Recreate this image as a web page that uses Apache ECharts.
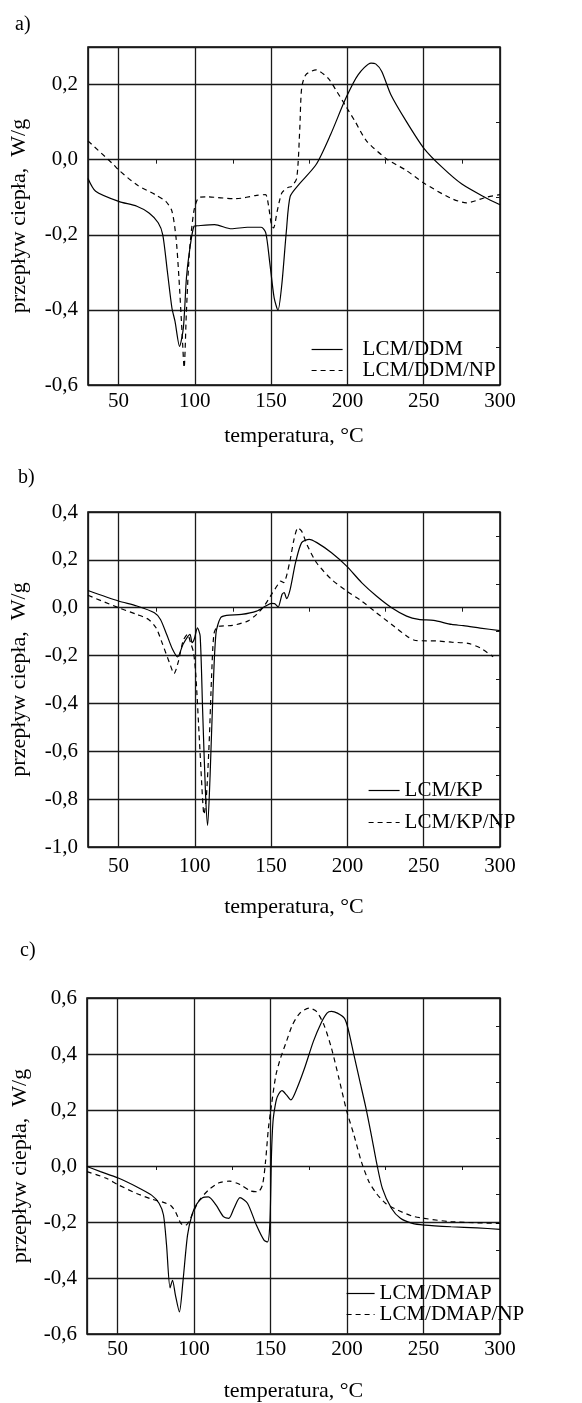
<!DOCTYPE html>
<html><head><meta charset="utf-8">
<script src="https://cdn.jsdelivr.net/npm/echarts@6/dist/echarts.min.js"></script>
<style>html,body{margin:0;padding:0;background:#fff}#c{width:582px;height:1403px}</style>
</head><body><div id="c"></div>
<script>
// ---- panel a) LCM/DDM ----
const A_DDM_T = [30,35,50,62,70,76,79,82,85,87,90,92.5,94.5,96.5,99.5,101.5,113,124,134.5,143.5,146.5,149,152,154.5,157,160,162.5,168,179.5,189,199,207,215.5,218.5,222.5,228.5,238,250,262,275,290,300];
const A_DDM_V = [-0.05,-0.084,-0.111,-0.124,-0.142,-0.168,-0.2,-0.297,-0.395,-0.43,-0.497,-0.448,-0.315,-0.244,-0.177,-0.176,-0.173,-0.184,-0.18,-0.18,-0.195,-0.27,-0.368,-0.401,-0.333,-0.19,-0.098,-0.067,-0.013,0.067,0.164,0.226,0.257,0.255,0.235,0.173,0.106,0.031,-0.02,-0.065,-0.1,-0.12];
const A_NP_T = [30,46.7,50,62,74,81,85,87.7,89.6,91.6,93,94.5,96.5,99.4,102.3,107,127,140.5,146.3,148.2,150.2,151.6,154,157,161,163.5,166.8,168.8,170,172.7,179.5,187.3,193,199,205,212.7,226.4,238,250,267.4,278,291,300];
const A_NP_V = [0.05,-0.013,-0.027,-0.067,-0.093,-0.111,-0.137,-0.208,-0.315,-0.457,-0.554,-0.404,-0.244,-0.137,-0.102,-0.099,-0.104,-0.095,-0.093,-0.12,-0.173,-0.182,-0.137,-0.089,-0.074,-0.071,-0.049,0.084,0.19,0.226,0.239,0.217,0.182,0.142,0.102,0.049,0.0,-0.027,-0.062,-0.102,-0.115,-0.1,-0.093];
// ---- panel b) LCM/KP ----
const B_KP_T = [30,50,62,73.5,77.5,81.5,85.4,88.7,92.3,96.8,98.2,99.6,101.7,103.5,105.1,107,108.4,110,111.9,113.9,116.9,120.8,130.6,140.5,146.4,150.3,152.3,154.6,157.2,158.6,160.1,162.5,166,170,175,180,189.6,199.5,209.3,219,229,238.8,246.7,256.5,268.3,276,287,300];
const B_KP_V = [0.072,0.028,0.007,-0.021,-0.049,-0.111,-0.174,-0.206,-0.153,-0.111,-0.146,-0.132,-0.084,-0.118,-0.425,-0.774,-0.91,-0.704,-0.355,-0.105,-0.042,-0.032,-0.028,-0.014,0.007,0.018,0.017,0.003,0.056,0.063,0.038,0.077,0.188,0.272,0.286,0.272,0.23,0.174,0.105,0.049,0.0,-0.035,-0.049,-0.053,-0.07,-0.075,-0.085,-0.096];
const B_NP_T = [30,50,62,69.7,74.6,78.5,83.4,86.4,89.3,92.3,95.2,97.2,99.2,100.7,103.1,105.1,106,107.6,109.4,111,112.5,114.9,124.7,134.6,140.5,145.4,150.3,154.6,156.2,158.2,162.1,165,167.6,170,173.9,179.8,189.6,199.5,209.3,219,229,238.8,244.7,258.5,268.3,279,287,295.5];
const B_NP_V = [0.052,0.0,-0.028,-0.049,-0.084,-0.146,-0.23,-0.275,-0.223,-0.139,-0.111,-0.146,-0.188,-0.286,-0.564,-0.801,-0.864,-0.787,-0.564,-0.286,-0.111,-0.079,-0.074,-0.056,-0.028,0.007,0.056,0.098,0.111,0.105,0.188,0.286,0.334,0.32,0.258,0.188,0.118,0.07,0.028,-0.021,-0.07,-0.118,-0.137,-0.139,-0.144,-0.149,-0.168,-0.205];
// ---- panel c) LCM/DMAP ----
const C_DMAP_T = [30,38.8,50,62.4,72.2,77.1,80,82,84.3,85.9,87.8,90.4,92.7,95.7,98.6,101.6,105.5,109.4,114.3,119.2,122.7,126.1,130,134.9,140.8,145.7,148,149.6,150.6,151.6,153.1,154.5,157.5,160.4,163.3,167.3,172.2,178,183,186.9,189.8,193.7,198.2,200.6,204.5,208.4,212.4,216.3,219.2,223.1,229,234.9,242.7,250.5,268,285,300];
const C_DMAP_V = [-0.002,-0.02,-0.042,-0.074,-0.104,-0.133,-0.175,-0.282,-0.435,-0.408,-0.461,-0.521,-0.414,-0.248,-0.175,-0.137,-0.113,-0.11,-0.139,-0.181,-0.187,-0.151,-0.113,-0.133,-0.212,-0.265,-0.271,-0.199,0.039,0.159,0.218,0.248,0.269,0.254,0.236,0.278,0.349,0.445,0.51,0.546,0.552,0.546,0.528,0.492,0.397,0.302,0.206,0.099,0.015,-0.08,-0.151,-0.187,-0.205,-0.211,-0.217,-0.221,-0.226];
const C_NP_T = [30,42.7,50,62.4,72.2,80,84.9,87.8,91.4,94.1,96.7,99.6,103.5,109.4,116.3,123.1,130,136.9,141.8,144.7,146.7,148.6,150.6,153.5,156.5,160.4,164.3,169.2,175.1,180,184.9,189.8,194.7,199.6,204.5,209.4,214.3,219.2,225.1,232.9,242.7,250.5,268,300];
const C_NP_V = [-0.02,-0.044,-0.066,-0.098,-0.118,-0.13,-0.142,-0.163,-0.205,-0.213,-0.199,-0.163,-0.122,-0.086,-0.06,-0.054,-0.066,-0.089,-0.092,-0.068,0.015,0.135,0.218,0.325,0.385,0.445,0.504,0.546,0.564,0.552,0.504,0.421,0.313,0.2,0.111,0.015,-0.056,-0.098,-0.133,-0.157,-0.179,-0.187,-0.199,-0.205];

const PANEL_LABELS = ['a)','b)','c)'];
const SERIES_NAMES = [['LCM/DDM','LCM/DDM/NP'],['LCM/KP','LCM/KP/NP'],['LCM/DMAP','LCM/DMAP/NP']];
const Y_RANGES = [[-0.6,0.3],[-1.0,0.4],[-0.6,0.6]];
const X_RANGE = [30,300];
const X_MINOR = [75,125,175,225,275];
const X_TITLE = 'temperatura, °C';
const Y_TITLE = 'przepływ ciepła,  W/g';

const zip = (t, v) => t.map((x, i) => [x, v[i]]);
const DATA = [[zip(A_DDM_T,A_DDM_V), zip(A_NP_T,A_NP_V)],[zip(B_KP_T,B_KP_V), zip(B_NP_T,B_NP_V)],[zip(C_DMAP_T,C_DMAP_V), zip(C_NP_T,C_NP_V)]];

const FONT = 'Liberation Serif';
const INK = '#1a1a1a';
const layout = [
  {left:86, top:47, height:338, xMargin:6, xGap:40, yGap:58, leg:{left:306, top:334, w:31, lh:19, gap:0, pad:15}},
  {left:88, top:512, height:335, xMargin:9, xGap:49, yGap:58, leg:{left:363, top:775, w:31, lh:21, gap:11, pad:0}},
  {left:87, top:998, height:336, xMargin:5, xGap:46, yGap:56, leg:{left:341, top:1278, w:28, lh:20, gap:0, pad:0}}
];
const RIGHT = 82;
const fmtY = v => {
  const k = Math.round(v / 0.2);
  if (Math.abs(v - k * 0.2) > 1e-6) return '';
  return (k * 0.2).toFixed(1).replace('.', ',').replace('-0,0','0,0');
};
const fmtX = v => (v % 50 === 0 ? String(v) : '');

const grid = [], xAxis = [], yAxis = [], series = [], legend = [], title = [];
layout.forEach((L, i) => {
  grid.push({left:L.left, right:RIGHT, top:L.top, height:L.height, show:true, borderColor:'#000', borderWidth:1.5, backgroundColor:'transparent'});
  const [ymin, ymax] = Y_RANGES[i];
  xAxis.push({type:'value', gridIndex:i, min:X_RANGE[0], max:X_RANGE[1], splitNumber:5,
    axisLine:{show:false}, axisTick:{show:false},
    splitLine:{show:true, lineStyle:{color:INK, width:1.3}},
    axisLabel:{formatter:fmtX, showMinLabel:false, margin:L.xMargin, color:'#000', fontFamily:FONT, fontSize:21},
    name:X_TITLE, nameLocation:'middle', nameGap:L.xGap, nameTextStyle:{color:'#000', fontFamily:FONT, fontSize:22}});
  xAxis.push({type:'value', gridIndex:i, position:'top', min:X_RANGE[0], max:X_RANGE[1],
    axisLine:{show:false}, splitLine:{show:false}, axisLabel:{show:false},
    axisTick:{show:true, inside:true, length:4, customValues:X_MINOR, lineStyle:{color:INK, width:1}}});
  yAxis.push({type:'value', gridIndex:i, min:ymin, max:ymax, interval:0.2,
    axisLine:{show:false}, axisTick:{show:false},
    splitLine:{show:true, lineStyle:{color:INK, width:1.3}},
    axisLabel:{formatter:fmtY, margin:10, color:'#000', fontFamily:FONT, fontSize:21},
    name:Y_TITLE, nameLocation:'middle', nameGap:L.yGap, nameRotate:90, nameTextStyle:{color:'#000', fontFamily:FONT, fontSize:22}});
  const minorY = [];
  for (let k = Math.round(ymin*10)+1; k < Math.round(ymax*10); k += 2) minorY.push(k/10);
  yAxis.push({type:'value', gridIndex:i, position:'right', min:ymin, max:ymax,
    axisLine:{show:false}, splitLine:{show:false}, axisLabel:{show:false},
    axisTick:{show:true, inside:true, length:4, customValues:minorY, lineStyle:{color:INK, width:1}}});
  SERIES_NAMES[i].forEach((nm, j) => {
    series.push({type:'line', name:nm, xAxisIndex:2*i, yAxisIndex:2*i, data:DATA[i][j],
      showSymbol:false, symbol:'none', smooth:0.25, animation:false, silent:true,
      itemStyle:{color:'#000', opacity:0},
      lineStyle:{color:'#000', width:1.2, type: j === 0 ? 'solid' : [5,4]}});
  });
  legend.push({data:SERIES_NAMES[i], orient:'vertical', left:L.leg.left, top:L.leg.top,
    itemWidth:L.leg.w, itemHeight:12, itemGap:L.leg.gap,
    itemStyle:{opacity:0, borderWidth:0},
    lineStyle:{color:'#000', width:1.2},
    textStyle:{color:'#000', fontFamily:FONT, fontSize:21, lineHeight:L.leg.lh, padding:[0,0,0,L.leg.pad]},
    inactiveColor:'#000', selectedMode:false});
  title.push({text:PANEL_LABELS[i], left:[10,13,15][i], top:[10,463,936][i],
    textStyle:{color:'#000', fontFamily:FONT, fontSize:20, fontWeight:'normal'}});
});

const chart = echarts.init(document.getElementById('c'), null, {renderer:'canvas'});
chart.setOption({animation:false, backgroundColor:'#fff', title, grid, xAxis, yAxis, series, legend});
</script></body></html>
